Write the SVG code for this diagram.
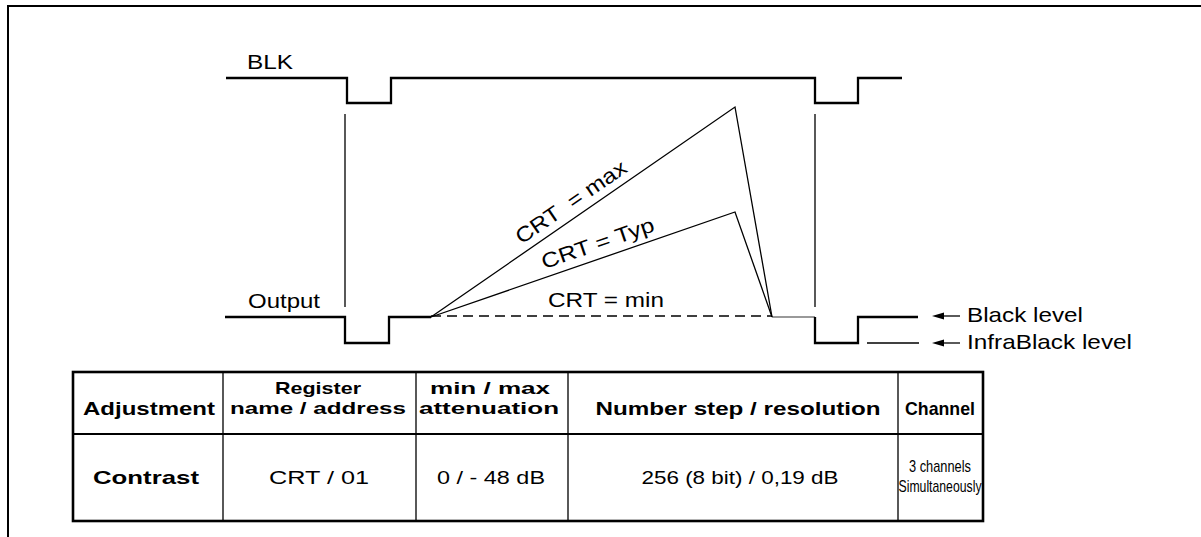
<svg xmlns="http://www.w3.org/2000/svg" width="1201" height="537" viewBox="0 0 1201 537">
<style>
text{font-family:"Liberation Sans",Arial,sans-serif;fill:#000}
.sig{fill:none;stroke:#000;stroke-width:2.3}
.thin{fill:none;stroke:#000;stroke-width:1.3}
.lbl{font-size:21px}
.th{font-size:19px;font-weight:bold;text-anchor:middle}
.th2{font-size:17px;font-weight:bold;text-anchor:middle}
.td{font-size:19px;text-anchor:middle}
.tb{font-size:19px;font-weight:bold;text-anchor:middle}
.sm{font-size:17px;text-anchor:middle}
</style>
<defs>
<marker id="ah" viewBox="0 0 12 8" refX="0" refY="4" markerWidth="12" markerHeight="8" markerUnits="userSpaceOnUse" orient="auto">
<path d="M12,4 L0,0.5 L0,7.5 Z" fill="#000"/>
</marker>
</defs>
<rect width="1201" height="537" fill="#fff"/>
<path d="M8,537 V6 H1201" fill="none" stroke="#000" stroke-width="2"/>
<g id="blk-signal">
<text class="lbl" x="247" y="69" textLength="46" lengthAdjust="spacingAndGlyphs">BLK</text>
<path class="sig" d="M226,78 H347 V103 H391 V78 H815 V103 H858 V78 H902"/>
</g>
<g id="guides">
<path class="thin" d="M345,114 V307 M815,114 V307"/>
</g>
<g id="output-signal">
<text class="lbl" x="248" y="308" textLength="72" lengthAdjust="spacingAndGlyphs">Output</text>
<path class="sig" d="M225,317 H345 V343 H389 V317 H431"/>
<path d="M772,317 H815" stroke="#777" stroke-width="1.6" fill="none"/>
<path class="sig" d="M815,317 V343 H858 V317 H918"/>
</g>
<g id="connectors">
<path class="thin" d="M431,317 L735,107 L772,317"/>
<path class="thin" d="M431,317 L735,212 L772,317"/>
<path class="thin" d="M431,316 H772" stroke-dasharray="10,6"/>
<path class="thin" d="M867,343 H919"/>
<path class="thin" d="M960,316 H944" marker-end="url(#ah)"/>
<path class="thin" d="M960,343 H944" marker-end="url(#ah)"/>
</g>
<g id="ramp-labels">
<text class="lbl" text-anchor="middle" xml:space="preserve" transform="translate(575,208) rotate(-34.5)" textLength="130" lengthAdjust="spacingAndGlyphs">CRT  = max</text>
<text class="lbl" text-anchor="middle" transform="translate(600,250) rotate(-19)" textLength="118" lengthAdjust="spacingAndGlyphs">CRT = Typ</text>
<text class="lbl" text-anchor="middle" x="606" y="307" textLength="116" lengthAdjust="spacingAndGlyphs">CRT = min</text>
</g>
<g id="level-labels">
<text class="lbl" x="967" y="322" textLength="116" lengthAdjust="spacingAndGlyphs">Black level</text>
<text class="lbl" x="967" y="349" textLength="165" lengthAdjust="spacingAndGlyphs">InfraBlack level</text>
</g>
<g id="table">
<rect x="73" y="372" width="910" height="149" fill="none" stroke="#000" stroke-width="2.6"/>
<path d="M73,434 H983" stroke="#000" stroke-width="2.2"/>
<path class="thin" d="M223,372 V521 M416,372 V521 M568,372 V521 M898,372 V521"/>
<text class="th" x="149" y="415" textLength="132" lengthAdjust="spacingAndGlyphs">Adjustment</text>
<text class="th2" x="318" y="394" textLength="86" lengthAdjust="spacingAndGlyphs">Register</text>
<text class="th2" x="318" y="414" textLength="176" lengthAdjust="spacingAndGlyphs">name / address</text>
<text class="th2" x="490" y="394" textLength="120" lengthAdjust="spacingAndGlyphs">min / max</text>
<text class="th2" x="489" y="414" textLength="140" lengthAdjust="spacingAndGlyphs">attenuation</text>
<text class="th" x="738" y="415" textLength="285" lengthAdjust="spacingAndGlyphs">Number step / resolution</text>
<text class="th" x="940" y="415" textLength="70" lengthAdjust="spacingAndGlyphs">Channel</text>
<text class="tb" x="146" y="484" textLength="106" lengthAdjust="spacingAndGlyphs">Contrast</text>
<text class="td" x="319" y="484" textLength="100" lengthAdjust="spacingAndGlyphs">CRT / 01</text>
<text class="td" x="491" y="484" textLength="108" lengthAdjust="spacingAndGlyphs">0 / - 48 dB</text>
<text class="td" x="740" y="484" textLength="197" lengthAdjust="spacingAndGlyphs">256 (8 bit) / 0,19 dB</text>
<text class="sm" x="940" y="472" textLength="62" lengthAdjust="spacingAndGlyphs">3 channels</text>
<text class="sm" x="940" y="492" textLength="83" lengthAdjust="spacingAndGlyphs">Simultaneously</text>
</g>
</svg>
